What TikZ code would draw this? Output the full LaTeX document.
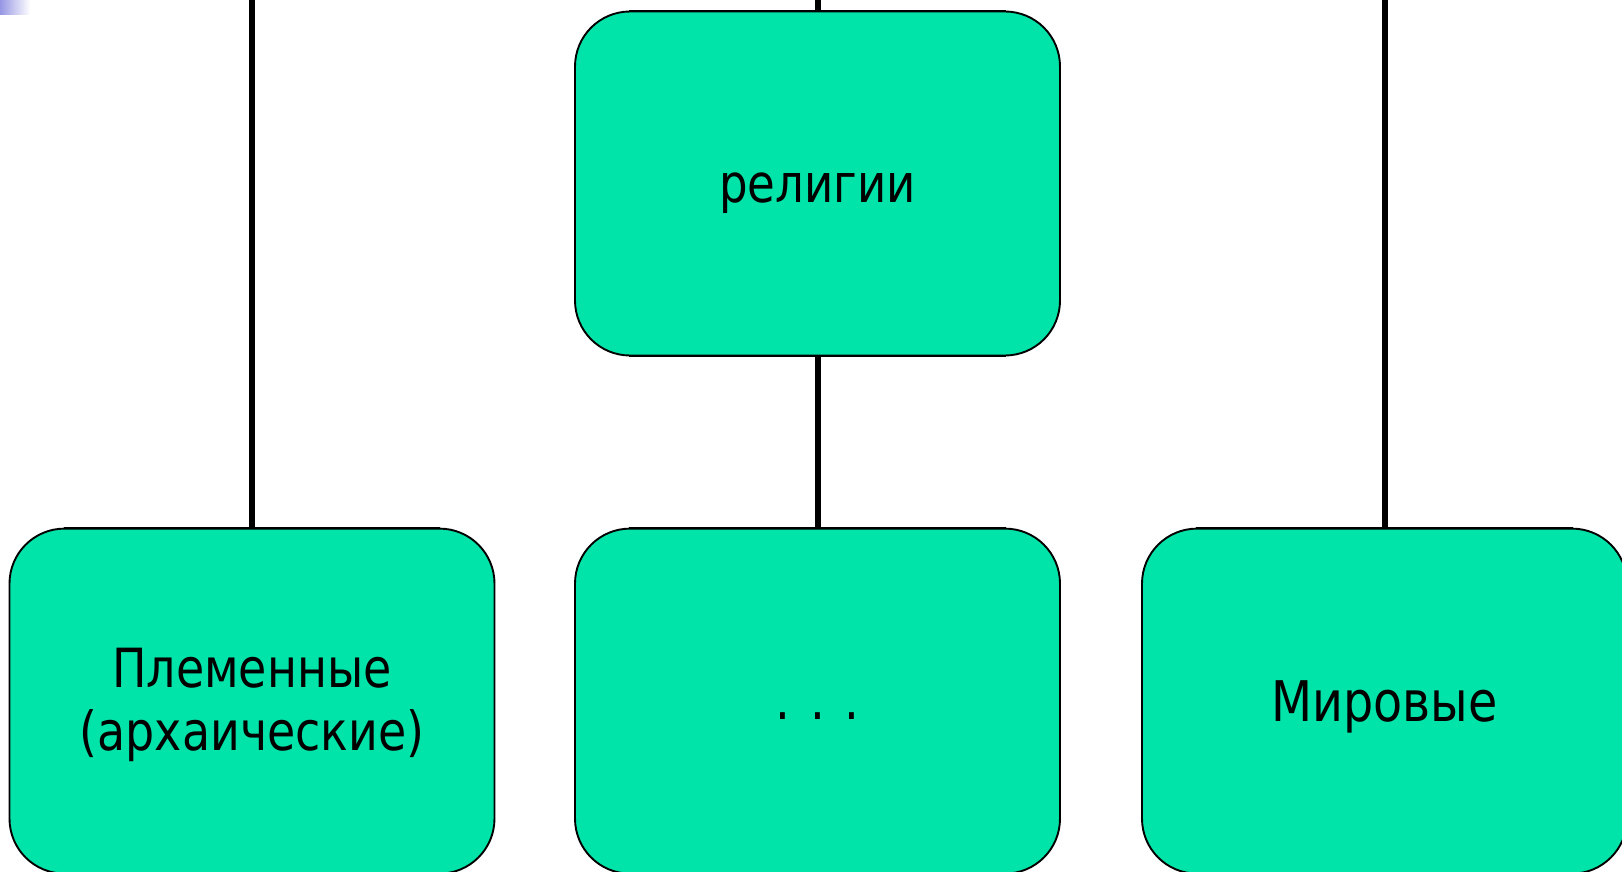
\documentclass[tikz,border=0pt]{standalone}
\usepackage{fontspec}
\setmainfont{DejaVu Sans}[FakeStretch=0.85]
\definecolor{boxfill}{RGB}{0,228,170}
\definecolor{cornerblue}{RGB}{150,150,228}
\begin{document}
\begin{tikzpicture}[x=1pt,y=-1pt,
  box/.style={draw=black, line width=1.9pt, fill=boxfill, rectangle,
    rounded corners=55pt, minimum width=485pt, inner sep=0pt},
  conn/.style={draw=black, line width=6pt},
  edge/.style={draw=black, line width=1.9pt},
  lbl/.style={inner sep=0pt, anchor=base, align=center}]
\useasboundingbox (0,0) rectangle (1622,872);
\fill[white] (0,0) rectangle (1622,872);
\shade[left color=cornerblue, right color=white] (0,0) rectangle (30,15);
% boxes
\node[box, minimum height=344pt] (top) at (817.5,183.5) {};
\node[box, minimum height=345pt] (b1) at (252,701.1) {};
\node[box, minimum height=345pt] (b2) at (817.5,701.1) {};
\node[box, minimum height=345pt] (b3) at (1384.5,701.1) {};
% free ends at the top edge
\coordinate (e1) at (252,0);
\coordinate (e2) at (817.5,0);
\coordinate (e3) at (1384.5,0);
% connectors
\draw[conn] (e1) -- (b1.north);
\draw[conn] (e2) -- (top.north);
\draw[conn] (top.south) -- (b2.north);
\draw[conn] (e3) -- (b3.north);
% box outlines over the connector ends
\draw[edge] ([xshift=55pt]top.north west) -- ([xshift=-55pt]top.north east);
\draw[edge] ([xshift=55pt]top.south west) -- ([xshift=-55pt]top.south east);
\draw[edge] ([xshift=55pt]b1.north west) -- ([xshift=-55pt]b1.north east);
\draw[edge] ([xshift=55pt]b2.north west) -- ([xshift=-55pt]b2.north east);
\draw[edge] ([xshift=55pt]b3.north west) -- ([xshift=-55pt]b3.north east);
% labels
\node[lbl, font=\fontsize{53}{64}\selectfont] (t0) at ([yshift=-19.2pt]top.center) {религии};
\node[lbl, font=\fontsize{54}{63.4}\selectfont] (t1) at ([yshift=-49.6pt]b1.center) {Племенные\\(архаические)};
\node[lbl, font=\fontsize{55}{64}\selectfont] (t2) at ([yshift=-18.6pt]b2.center) {. . .};
\node[lbl, font=\fontsize{56}{64}\selectfont] (t3) at ([yshift=-20.6pt]b3.center) {Мировые};
\end{tikzpicture}
\end{document}
